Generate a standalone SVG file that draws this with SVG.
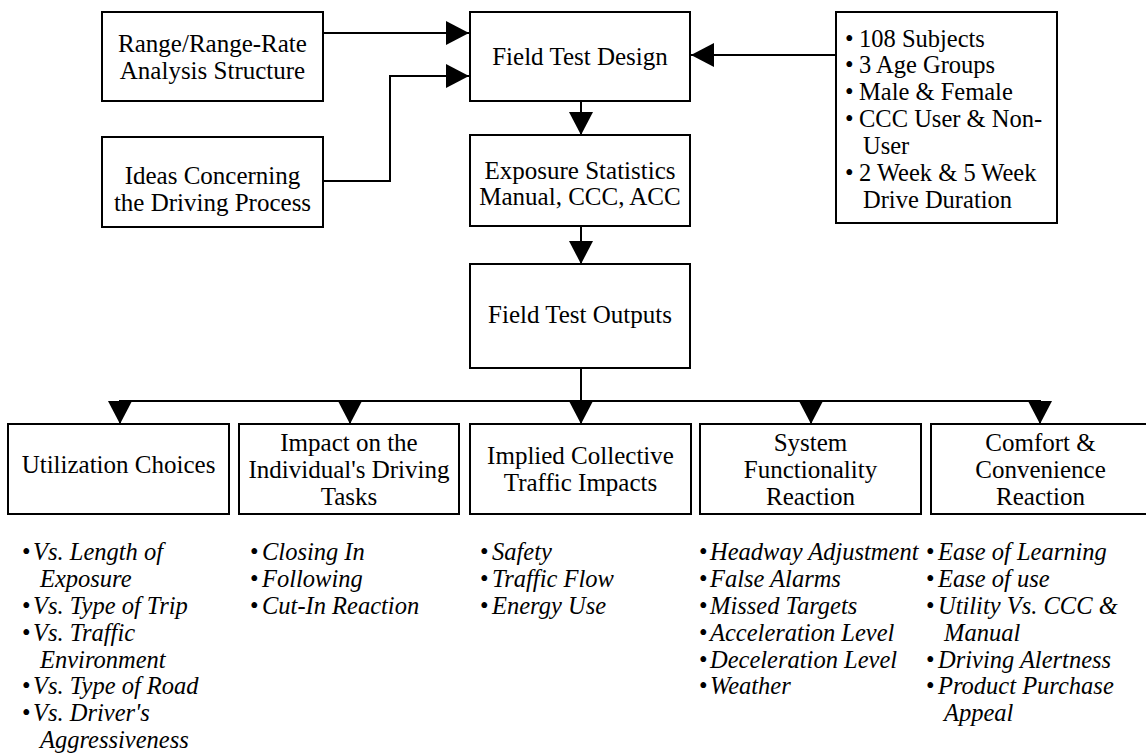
<svg xmlns="http://www.w3.org/2000/svg" width="1146" height="756" viewBox="0 0 1146 756">
<style>
.box{fill:#fff;stroke:#000;stroke-width:2}
.lbl{font-family:"Liberation Serif","Times New Roman",serif;font-size:25px;fill:#000;text-anchor:middle}
.lst{font-family:"Liberation Serif","Times New Roman",serif;font-size:24.5px;fill:#000}
.it{font-style:italic}
.con{fill:none;stroke:#000;stroke-width:2}
</style>
<defs>
<marker id="ah" markerUnits="userSpaceOnUse" markerWidth="24" markerHeight="24" viewBox="0 0 24 24" refX="23" refY="12" orient="auto">
<path d="M0,0 L23,12 L0,24 Z" fill="#000"/>
</marker>
</defs>
<g id="connectors">
<path class="con" d="M323,33 H469" marker-end="url(#ah)"/>
<path class="con" d="M323,181 H390 V76 H469" marker-end="url(#ah)"/>
<path class="con" d="M836,55 H691" marker-end="url(#ah)"/>
<path class="con" d="M581,101 V135" marker-end="url(#ah)"/>
<path class="con" d="M581,226 V264" marker-end="url(#ah)"/>
<path class="con" d="M581,368 V401"/>
<path class="con" d="M119,401 H1041"/>
<path class="con" d="M120,401 V424" marker-end="url(#ah)"/>
<path class="con" d="M350,401 V424" marker-end="url(#ah)"/>
<path class="con" d="M581,401 V424" marker-end="url(#ah)"/>
<path class="con" d="M811,401 V424" marker-end="url(#ah)"/>
<path class="con" d="M1040,401 V424" marker-end="url(#ah)"/>
</g>
<g id="range">
<rect class="box" x="102" y="12" width="221" height="89"/>
<text class="lbl" x="212.5" y="52">Range/Range-Rate</text>
<text class="lbl" x="212.5" y="79">Analysis Structure</text>
</g>
<g id="ideas">
<rect class="box" x="102" y="137" width="221" height="90"/>
<text class="lbl" x="212.5" y="184">Ideas Concerning</text>
<text class="lbl" x="212.5" y="211">the Driving Process</text>
</g>
<g id="fieldTestDesign">
<rect class="box" x="470" y="12" width="220" height="89"/>
<text class="lbl" x="580" y="65">Field Test Design</text>
</g>
<g id="subjects">
<rect class="box" x="836" y="12" width="221" height="211"/>
<g class="lst">
<text x="845" y="47">•</text><text x="859" y="47">108 Subjects</text>
<text x="845" y="73">•</text><text x="859" y="73">3 Age Groups</text>
<text x="845" y="100">•</text><text x="859" y="100">Male &amp; Female</text>
<text x="845" y="127">•</text><text x="859" y="127">CCC User &amp; Non-</text>
<text x="863" y="154">User</text>
<text x="845" y="181">•</text><text x="859" y="181">2 Week &amp; 5 Week</text>
<text x="863" y="208">Drive Duration</text>
</g>
</g>
<g id="exposure">
<rect class="box" x="470" y="135" width="220" height="91"/>
<text class="lbl" x="580" y="179">Exposure Statistics</text>
<text class="lbl" x="580" y="205">Manual, CCC, ACC</text>
</g>
<g id="outputs">
<rect class="box" x="470" y="264" width="220" height="104"/>
<text class="lbl" x="580" y="323">Field Test Outputs</text>
</g>
<g id="utilization">
<rect class="box" x="8" y="424" width="221" height="90"/>
<text class="lbl" x="118.5" y="473">Utilization Choices</text>
<g class="lst">
<text x="22" y="560">•</text><text class="it" x="33" y="560">Vs. Length of</text>
<text class="it" x="40" y="587">Exposure</text>
<text x="22" y="614">•</text><text class="it" x="33" y="614">Vs. Type of Trip</text>
<text x="22" y="641">•</text><text class="it" x="33" y="641">Vs. Traffic</text>
<text class="it" x="40" y="668">Environment</text>
<text x="22" y="694">•</text><text class="it" x="33" y="694">Vs. Type of Road</text>
<text x="22" y="721">•</text><text class="it" x="33" y="721">Vs. Driver's</text>
<text class="it" x="40" y="748">Aggressiveness</text>
</g>
</g>
<g id="impact">
<rect class="box" x="239" y="424" width="220" height="90"/>
<text class="lbl" x="349" y="451">Impact on the</text>
<text class="lbl" x="349" y="478">Individual's Driving</text>
<text class="lbl" x="349" y="505">Tasks</text>
<g class="lst">
<text x="250" y="560">•</text><text class="it" x="262" y="560">Closing In</text>
<text x="250" y="587">•</text><text class="it" x="262" y="587">Following</text>
<text x="250" y="614">•</text><text class="it" x="262" y="614">Cut-In Reaction</text>
</g>
</g>
<g id="implied">
<rect class="box" x="470" y="424" width="221" height="90"/>
<text class="lbl" x="580.5" y="464">Implied Collective</text>
<text class="lbl" x="580.5" y="491">Traffic Impacts</text>
<g class="lst">
<text x="480" y="560">•</text><text class="it" x="492" y="560">Safety</text>
<text x="480" y="587">•</text><text class="it" x="492" y="587">Traffic Flow</text>
<text x="480" y="614">•</text><text class="it" x="492" y="614">Energy Use</text>
</g>
</g>
<g id="system">
<rect class="box" x="700" y="424" width="221" height="90"/>
<text class="lbl" x="810.5" y="451">System</text>
<text class="lbl" x="810.5" y="478">Functionality</text>
<text class="lbl" x="810.5" y="505">Reaction</text>
<g class="lst">
<text x="699" y="560">•</text><text class="it" x="710" y="560">Headway Adjustment</text>
<text x="699" y="587">•</text><text class="it" x="710" y="587">False Alarms</text>
<text x="699" y="614">•</text><text class="it" x="710" y="614">Missed Targets</text>
<text x="699" y="641">•</text><text class="it" x="710" y="641">Acceleration Level</text>
<text x="699" y="668">•</text><text class="it" x="710" y="668">Deceleration Level</text>
<text x="699" y="694">•</text><text class="it" x="710" y="694">Weather</text>
</g>
</g>
<g id="comfort">
<rect class="box" x="931" y="424" width="220" height="90"/>
<text class="lbl" x="1040.5" y="451">Comfort &amp;</text>
<text class="lbl" x="1040.5" y="478">Convenience</text>
<text class="lbl" x="1040.5" y="505">Reaction</text>
<g class="lst">
<text x="926" y="560">•</text><text class="it" x="938" y="560">Ease of Learning</text>
<text x="926" y="587">•</text><text class="it" x="938" y="587">Ease of use</text>
<text x="926" y="614">•</text><text class="it" x="938" y="614">Utility Vs. CCC &amp;</text>
<text class="it" x="944" y="641">Manual</text>
<text x="926" y="668">•</text><text class="it" x="938" y="668">Driving Alertness</text>
<text x="926" y="694">•</text><text class="it" x="938" y="694">Product Purchase</text>
<text class="it" x="944" y="721">Appeal</text>
</g>
</g>
</svg>
